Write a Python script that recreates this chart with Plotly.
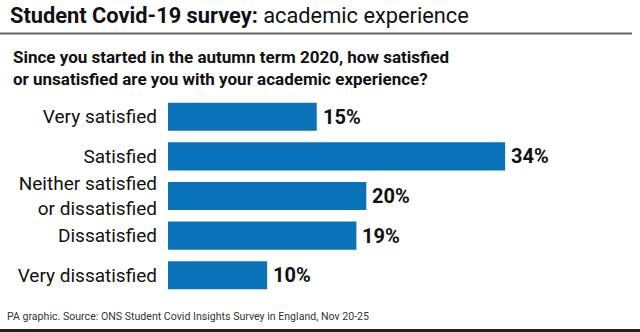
import plotly.graph_objects as go

categories = ["Very satisfied", "Satisfied", "Neither satisfied<br>or dissatisfied", "Dissatisfied", "Very dissatisfied"]
values = [15, 34, 20, 19, 10]
value_labels = ["15%", "34%", "20%", "19%", "10%"]

W, H = 640, 332
T, B = 97, 37
FONT = "Roboto"
BAR = "#0a72b8"

def py(p):
    # pixel row -> paper y
    return (H - B - p) / (H - T - B)

fig = go.Figure(go.Bar(
    x=values, y=categories, orientation="h",
    marker=dict(color=BAR, line=dict(width=0)),
    cliponaxis=False, width=0.71,
))

fig.update_layout(
    width=W, height=H,
    margin=dict(l=0, r=0, t=T, b=B),
    paper_bgcolor="white", plot_bgcolor="white",
    showlegend=False,
    xaxis=dict(domain=[168 / W, 1], range=[0, 47.6], visible=False, fixedrange=True),
    yaxis=dict(autorange="reversed", showgrid=False, zeroline=False, showline=False,
               ticks="", ticklabelstandoff=10,
               tickfont=dict(family=FONT, size=19, color="#111"), automargin=False),
    font=dict(family=FONT),
)

for v, c, t in zip(values, categories, value_labels):
    fig.add_annotation(x=v, y=c, xref="x", yref="y", text="<b>" + t + "</b>",
                       xanchor="left", yanchor="middle", xshift=4, showarrow=False,
                       font=dict(family=FONT, size=20, color="#111"))

anns = [
    dict(text="<b>Student Covid-19 survey:</b> academic experience", x=8 / W, y=py(16),
         font=dict(size=21.8, color="#111", family=FONT)),
    dict(text="<b>Since you started in the autumn term 2020, how satisfied<br>or unsatisfied are you with your academic experience?</b>",
         x=11 / W, y=py(68), font=dict(size=17, color="#111", family=FONT), align="left"),
    dict(text="PA graphic. Source: ONS Student Covid Insights Survey in England, Nov 20-25",
         x=5 / W, y=py(316), font=dict(size=10.6, color="#333", family=FONT)),
]
for a in anns:
    a.update(xref="paper", yref="paper", xanchor="left", yanchor="middle", showarrow=False)
    fig.add_annotation(**a)

fig.add_shape(type="line", xref="paper", yref="paper", x0=0, x1=632 / W,
              y0=py(33.5), y1=py(33.5), line=dict(color="#666", width=2))
fig.add_shape(type="line", xref="paper", yref="paper", x0=0, x1=1,
              y0=py(330.5), y1=py(330.5), line=dict(color="#222", width=3))

fig.write_html("out.html")
